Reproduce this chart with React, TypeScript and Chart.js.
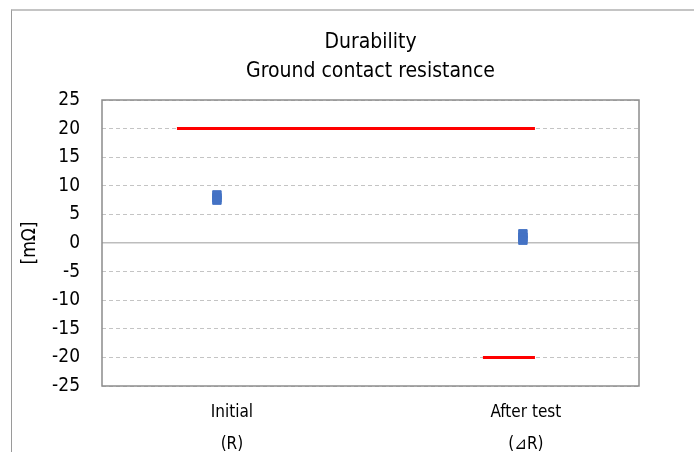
import React, { useEffect, useRef } from "react";
import { Chart, registerables } from "chart.js";

Chart.register(...registerables);

const categories = ["Initial", "After test"];
const subLabels = ["(R)", "(⊿R)"];
const categoryPositions = [1, 2];
const titleLines = ["Durability", "Ground contact resistance"];
const yAxisLabel = "[mΩ]";
const yMin = -25;
const yMax = 25;
const yStep = 5;

// measured values (mΩ)
const initialX = [0.949, 0.949, 0.949];
const initialValues = [8.4, 7.9, 7.5];
const afterX = [1.99, 1.99, 1.99];
const afterValues = [1.6, 1.0, 0.5];

// spec limits
const upperLimitX = [0.813, 2.031];
const upperLimitValues = [20, 20];
const lowerLimitX = [1.854, 2.031];
const lowerLimitValues = [-20, -20];

const FONT = "'Liberation Sans Narrow', 'Arial Narrow', 'DejaVu Sans Condensed', sans-serif";

const zip = (xs: number[], ys: number[]) => xs.map((x, i) => ({ x, y: ys[i] }));

const decorPlugin = {
  id: "decor",
  afterDraw(chart: any) {
    const { ctx, chartArea } = chart;
    const cx = (chartArea.left + chartArea.right) / 2;
    ctx.save();
    // frame
    ctx.strokeStyle = "#8c8c8c";
    ctx.lineWidth = 1.5;
    ctx.strokeRect(chartArea.left, chartArea.top, chartArea.right - chartArea.left, chartArea.bottom - chartArea.top);
    // titles
    ctx.fillStyle = "#000";
    ctx.font = `21px ${FONT}`;
    ctx.textAlign = "center";
    ctx.textBaseline = "middle";
    ctx.fillText(titleLines[0], cx, 43);
    ctx.fillText(titleLines[1], cx, 72);
    // y label
    ctx.translate(30, (chartArea.top + chartArea.bottom) / 2);
    ctx.rotate(-Math.PI / 2);
    ctx.font = `19px ${FONT}`;
    ctx.fillText(yAxisLabel, 0, 0);
    ctx.restore();
  },
};

export default function App() {
  const ref = useRef<HTMLCanvasElement>(null);
  useEffect(() => {
    if (!ref.current) return;
    const chart = new Chart(ref.current, {
      type: "scatter",
      data: {
        datasets: [
          {
            type: "line",
            data: zip(upperLimitX, upperLimitValues),
            borderColor: "#ff0000",
            borderWidth: 3,
            pointRadius: 0,
            fill: false,
          } as any,
          {
            type: "line",
            data: zip(lowerLimitX, lowerLimitValues),
            borderColor: "#ff0000",
            borderWidth: 3,
            pointRadius: 0,
            fill: false,
          } as any,
          {
            data: zip(initialX, initialValues),
            backgroundColor: "#4472c4",
            borderColor: "#4472c4",
            borderWidth: 1,
            pointStyle: "rect",
            pointRadius: 6,
          },
          {
            data: zip(afterX, afterValues),
            backgroundColor: "#4472c4",
            borderColor: "#4472c4",
            borderWidth: 1,
            pointStyle: "rect",
            pointRadius: 6,
          },
        ],
      },
      options: {
        animation: false,
        responsive: false,
        layout: { padding: { top: 100, right: 55, left: 0, bottom: 0 } },
        plugins: { legend: { display: false }, tooltip: { enabled: false }, title: { display: false } },
        scales: {
          x: {
            type: "linear",
            min: 0.558,
            max: 2.385,
            afterBuildTicks: (scale: any) => {
              scale.ticks = categoryPositions.map((v) => ({ value: v }));
            },
            afterFit: (scale: any) => {
              scale.height = 66;
            },
            grid: { display: false, drawTicks: false },
            border: { display: false },
            ticks: {
              padding: 11,
              color: "#000",
              font: { family: FONT, size: 17, lineHeight: 1.85 },
              maxRotation: 0,
              autoSkip: false,
              callback: (v: any) => {
                const i = categoryPositions.indexOf(Number(v));
                return i >= 0 ? [categories[i], subLabels[i]] : "";
              },
            },
          },
          y: {
            min: yMin,
            max: yMax,
            afterFit: (scale: any) => {
              scale.width = 102;
            },
            grid: {
              drawTicks: false,
              color: (c: any) => (c.tick && c.tick.value === 0 ? "#bdbdbd" : "#c4c4c4"),
              lineWidth: (c: any) => (c.tick && c.tick.value === 0 ? 1.5 : 1),
            },
            border: {
              display: false,
              dash: (c: any) => (c.tick && c.tick.value === 0 ? [] : [4, 3]),
            } as any,
            ticks: {
              stepSize: yStep,
              padding: 22,
              color: "#000",
              font: { family: FONT, size: 19 },
            },
          },
        },
      },
      plugins: [decorPlugin],
    });
    return () => chart.destroy();
  }, []);
  return (
    <div style={{ position: "absolute", left: 0, top: 0, width: 694, height: 452, overflow: "hidden", background: "#fff" }}>
      <div
        style={{
          position: "absolute",
          left: 11,
          top: 9,
          width: 700,
          height: 460,
          borderLeft: "1px solid #9a9a9a",
          borderTop: "2px solid #c4c4c4",
        }}
      />
      <canvas ref={ref} width={694} height={452} style={{ position: "absolute", left: 0, top: 0 }} />
    </div>
  );
}
